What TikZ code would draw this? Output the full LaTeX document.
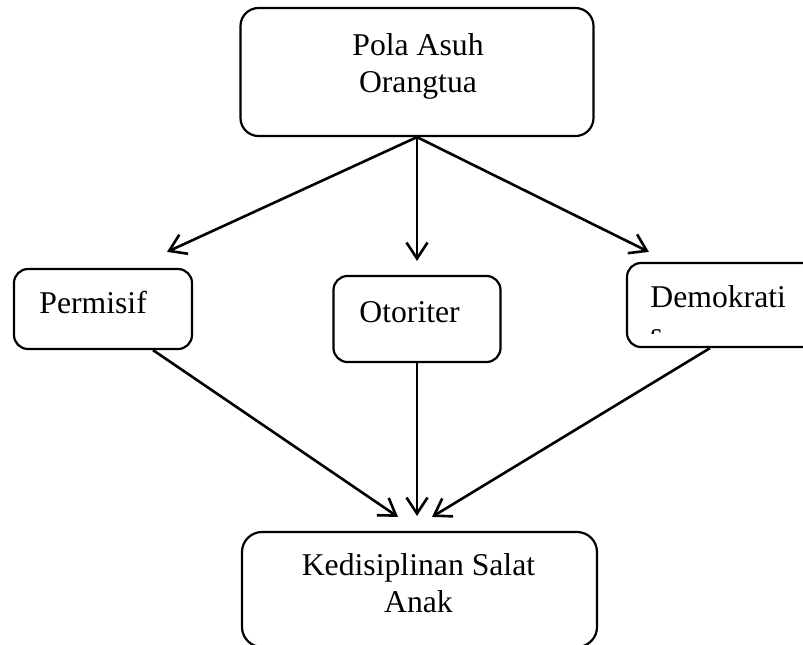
\documentclass[tikz,border=0pt]{standalone}
\usepackage{fontspec}
\setmainfont{Liberation Serif}
\usetikzlibrary{arrows.meta}

\begin{document}
\begin{tikzpicture}[x=0.5pt,y=-0.5pt]
\tikzstyle{box}=[rectangle, draw=black, line width=1.1pt, rounded corners=7pt, inner sep=0pt]
\tikzstyle{txt}=[inner sep=0pt, anchor=base, font=\fontsize{15.85pt}{18.5pt}\selectfont]
\tikzstyle{connect}=[-{Straight Barb[length=8pt,width=10.5pt]}, line width=1.3pt]
  \useasboundingbox (0,0) rectangle (803,644);
  \clip (0,0) rectangle (803,644);
  \node[box, rounded corners=9pt, minimum width=176.5pt, minimum height=64pt] (pola) at (417,72) {};
  \node[box, minimum width=89pt, minimum height=40pt] (permisif) at (103,309) {};
  \node[box, minimum width=83.5pt, minimum height=43pt] (otoriter) at (417,319) {};
  \node[box, minimum width=96pt, minimum height=42pt] (demokrasi) at (723,305) {};
  \node[box, rounded corners=10pt, minimum width=177.5pt, minimum height=57.5pt] (anak) at (419.5,589.5) {};
  \node[txt, align=center] (pola-txt) at (418,92) {Pola Asuh\\Orangtua};
  \node[txt, anchor=base west] (permisif-txt) at (39,313) {Permisif};
  \node[txt, anchor=base west] (otoriter-txt) at (359,322) {Otoriter};
  \begin{scope}
    \clip (620,263) rectangle (803,333);
    \node[txt, anchor=base west, align=left] (demokrasi-txt) at (650,344) {Demokrati\\s};
  \end{scope}
  \node[txt, align=center] (anak-txt) at (418.5,612) {Kedisiplinan Salat\\Anak};
  \path
        (pola.south) edge [connect] ([shift={(64,-16)}]permisif.north)
        (pola.south) edge [connect, shorten >=7pt] (otoriter.north)
        (pola.south) edge [connect] ([shift={(23,-10)}]demokrasi.north west)
        ([xshift=25pt]permisif.south) edge [connect] ([shift={(-21.5,-14)}]anak.north)
        (otoriter.south) edge [connect, shorten >=7.5pt] (otoriter.south |- anak.north)
        ([xshift=-6.5pt]demokrasi.south) edge [connect] ([shift={(12.5,-14)}]anak.north);
\end{tikzpicture}
\end{document}
